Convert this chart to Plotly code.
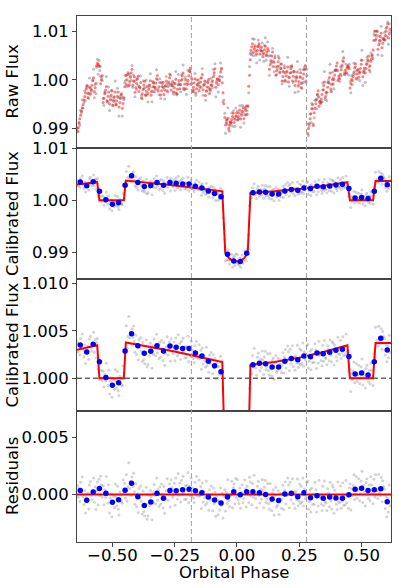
import numpy as np
import plotly.graph_objects as go
from plotly.subplots import make_subplots

# ---------------- data ----------------
bin_phase = [-0.629, -0.603, -0.577, -0.552, -0.526, -0.500, -0.475, -0.449, -0.423, -0.398,
             -0.372, -0.346, -0.321, -0.295, -0.269, -0.244, -0.218, -0.192, -0.167, -0.141,
             -0.115, -0.090, -0.064, -0.038, -0.013, 0.013, 0.039, 0.064, 0.090, 0.115,
             0.141, 0.167, 0.192, 0.218, 0.244, 0.269, 0.295, 0.321, 0.346, 0.372,
             0.397, 0.423, 0.449, 0.474, 0.500, 0.526, 0.551, 0.577, 0.603]

bin_flux = [1.00351, 1.00278, 1.00358, 1.00174, 1.00010, 0.99927, 0.99955, 1.00289, 1.00469, 1.00344,
            1.00264, 1.00285, 1.00344, 1.00289, 1.00341, 1.00327, 1.00313, 1.00313, 1.00268, 1.00236,
            1.00181, 1.00132, 1.00070, 0.98968, 0.98836, 0.98825, 0.98987, 1.00143, 1.00160, 1.00153,
            1.00119, 1.00119, 1.00181, 1.00208, 1.00195, 1.00236, 1.00226, 1.00268, 1.00260, 1.00275,
            1.00295, 1.00306, 1.00229, 1.00045, 1.00056, 1.00035, 1.00174, 1.00421, 1.00299]

bin_resid = [0.00035, -0.00052, 0.00020, 0.00052, 0.00011, -0.00070, -0.00047, 0.00037, 0.00098, -0.00021,
             -0.00099, -0.00067, 0.00011, -0.00035, 0.00035, 0.00031, 0.00040, 0.00046, 0.00031, 0.00014,
             -0.00023, -0.00050, -0.00075, -0.00023, 0.00023, -0.00003, 0.00023, 0.00023, 0.00014, 0.00000,
             -0.00041, -0.00055, 0.00003, 0.00011, -0.00021, 0.00014, -0.00029, -0.00012, -0.00035, -0.00023,
             -0.00032, -0.00035, -0.00003, 0.00046, 0.00055, 0.00035, 0.00040, 0.00049, -0.00064]

model_phase = [-0.642, -0.600, -0.561, -0.552, -0.454, -0.446, -0.350, -0.250, -0.150, -0.059,
               -0.047, -0.032, -0.018, 0.000, 0.016, 0.030, 0.043, 0.054, 0.150, 0.250,
               0.350, 0.443, 0.453, 0.546, 0.556, 0.618]
model_flux = [1.00302, 1.00326, 1.00348, 1.00000, 1.00000, 1.00378, 1.00335, 1.00283, 1.00225, 1.00172,
              0.98990, 0.98895, 0.98840, 0.98830, 0.98840, 0.98895, 0.98990, 1.00142, 1.00172, 1.00218,
              1.00280, 1.00348, 1.00000, 1.00000, 1.00372, 1.00372]

raw_level = [0.9920, 0.9975, 0.9985, 1.0005, 0.9970, 0.9965, 0.9960, 0.9985, 1.0000, 0.9990,
             0.9980, 0.9985, 0.9990, 0.9985, 0.9990, 0.9990, 0.9995, 1.0000, 0.9990, 0.9990,
             0.9985, 1.0000, 1.0005, 0.9910, 0.9922, 0.9928, 0.9936, 1.0063, 1.0062, 1.0058,
             1.0040, 1.0025, 1.0015, 1.0010, 1.0005, 1.0005, 0.9920, 0.9955, 0.9972, 0.9995,
             1.0010, 1.0020, 1.0010, 1.0015, 1.0020, 1.0030, 1.0075, 1.0078, 1.0095]

point_offsets = [-0.0112, -0.0080, -0.0048, -0.0016, 0.0016, 0.0048, 0.0080, 0.0112]

raw_wobble_ppm = [
    [-2500, -1800, -900, 0, 700, 1500, 2200, 2800],
    [-1600, -900, -200, 600, 1300, -1200, -300, 900],
    [-1400, -500, 400, 1300, 1900, -1000, -200, 700],
    [-1100, -200, 800, 1700, 2300, -1300, -500, 400],
    [-1700, -800, 100, 900, 1600, -1300, -400, 500],
    [-1500, -600, 300, 1200, -1800, -900, 0, 1000],
    [-1200, -300, 600, 1500, -1600, -700, 200, 1100],
    [-2000, -1000, 0, 800, 1600, -900, 100, 1200],
    [-1300, -400, 500, 1400, 2200, -1100, -200, 700],
    [-1600, -700, 200, 1100, 1800, -1400, -500, 500],
    [-1800, -900, 0, 900, 1700, -1200, -300, 600],
    [-1400, -500, 400, 1300, -1700, -800, 100, 1000],
    [-1500, -600, 300, 1200, 1900, -1300, -400, 500],
    [-1700, -800, 100, 1000, -1500, -600, 300, 1300],
    [-1300, -400, 500, 1400, 2000, -1100, -200, 700],
    [-1600, -700, 200, 1100, -1800, -900, 0, 900],
    [-1400, -500, 400, 1300, 1900, -1200, -300, 600],
    [-1900, -1000, -100, 800, 1700, 2400, -800, 200],
    [-1500, -600, 300, 1200, -1700, -800, 100, 1000],
    [-1300, -400, 500, 1400, 2100, -1000, -100, 800],
    [-1800, -900, 0, 900, 1600, -1300, -400, 500],
    [-1200, -300, 600, 1500, 2300, -1500, -600, 300],
    [-1600, -700, 200, 1100, 1900, -1100, -200, 700],
    [-1500, -800, -100, 600, 1200, -600, 100, 800],
    [-1200, -500, 200, 900, -1000, -300, 400, 1000],
    [-1000, -300, 400, 1000, -900, -200, 500, 1100],
    [-900, -200, 500, 1100, -800, -100, 600, -500],
    [-900, -200, 500, 1100, -700, 0, 700, -400],
    [-800, -100, 600, 1200, -900, -200, 500, -300],
    [-1000, -300, 400, 1100, -800, -100, 600, 200],
    [-1800, -900, 0, 900, 1700, -1300, -400, 500],
    [-1500, -600, 300, 1200, 2000, -1100, -200, 700],
    [-1700, -800, 100, 1000, -1600, -700, 200, 1100],
    [-1400, -500, 400, 1300, 1900, -1200, -300, 600],
    [-1600, -700, 200, 1100, -1800, -900, 0, 900],
    [-2000, -1100, -200, 700, 1600, 2400, -800, 300],
    [-3000, -2000, -1000, 0, 1000, 2000, 2800, -1500],
    [-2200, -1300, -400, 500, 1400, 2200, -1000, 0],
    [-2000, -1100, -200, 700, 1600, 2300, -900, 100],
    [-2000, -1000, 0, 1000, 1900, -1500, -500, 500],
    [-1800, -900, 0, 900, 1800, 2400, -1200, -300],
    [-1700, -800, 100, 1000, 1900, 2500, -1000, -100],
    [-1600, -700, 200, 1100, 1900, -1300, -400, 500],
    [-1700, -800, 100, 1000, 1800, -1200, -300, 600],
    [-1500, -600, 300, 1200, 2000, -1400, -500, 400],
    [-1600, -700, 200, 1100, 1900, -1000, -100, 800],
    [-1400, -500, 400, 1200, 1900, -1100, -200, 700],
    [-1500, -600, 300, 1100, 1800, -1200, -300, 500],
    [-1300, -400, 500, 1300, 2000, -900, 0, 900],
]

scatter_dev_ppm = [
    [420, -610, 180, -950, 730, -240, 1180, -530],
    [-380, 860, -1120, 270, -50, 640, -770, 1350],
    [910, -320, -680, 150, 1240, -890, 460, -1510],
    [-210, 570, -1430, 820, -640, 1090, 330, -760],
    [650, -1020, 290, -380, 1470, -120, -870, 740],
    [-940, 380, 760, -1280, 90, 540, -470, 1620],
    [230, -560, 1190, -830, -1340, 680, 410, -170],
    [-1150, 920, -260, 610, -720, 1380, -980, 300],
    [1810, -450, 170, -1060, 550, -300, 880, -720],
    [-660, 1140, -890, 240, -1390, 730, -110, 960],
    [380, -730, 1280, -520, -910, 150, 1630, -1210],
    [-1240, 590, -340, 1020, 460, -1570, 820, -100],
    [760, -180, -960, 1330, -620, 290, -1180, 540],
    [-520, 1260, 370, -840, 1050, -1310, -40, 680],
    [1040, -870, -230, 570, -1460, 940, 260, -610],
    [-310, 680, -1270, 1130, -180, -720, 1540, -390],
    [590, -1080, 840, -410, 1190, -230, -850, 370],
    [-860, 320, 1460, -1190, 210, -560, 990, -620],
    [270, -640, -1020, 760, -350, 1280, -150, -470],
    [1120, -290, 560, -1380, 870, -810, 140, -410],
    [-700, 1410, -530, 190, -1160, 650, -260, 970],
    [480, -950, 1060, -330, 720, -1420, 280, -90],
    [-1050, 210, -620, 1310, -240, 870, -1330, 560],
    [640, -1240, 410, -580, 1520, -310, -870, 130],
    [-280, 930, -1410, 360, 690, -1060, 1170, -510],
    [1330, -460, -780, 620, -1190, 240, 880, -700],
    [-620, 1050, 260, -1320, 490, -150, -970, 1290],
    [870, -350, -1150, 740, -480, 1460, -260, -620],
    [-1310, 580, 1020, -240, -890, 330, -560, 1180],
    [350, -1180, 640, 1240, -720, -410, 960, -830],
    [-890, 1370, -220, -1040, 560, 820, -1410, 300],
    [1190, -560, -410, 870, -1230, 190, 650, -680],
    [-450, 790, -1360, 320, 1080, -870, -120, 1410],
    [720, -1290, 950, -600, -170, 1270, -940, 60],
    [-1030, 460, -250, 1560, -790, -380, 1120, -590],
    [580, -820, 1300, -1160, 340, -510, -250, 920],
    [1450, -1020, -340, 690, -1270, 830, -580, 260],
    [-760, 1180, 520, -1440, 90, -910, 1360, -140],
    [310, -490, -1080, 1060, -630, 1540, -290, -420],
    [-1190, 760, 360, -870, 1290, -340, -1060, 1050],
    [940, -1350, 690, 180, -560, -1010, 1430, -330],
    [-420, 1090, -870, -260, 1380, -640, 270, -560],
    [1260, -700, -150, -1190, 620, 970, -1340, 530],
    [-590, 320, 1270, -920, -430, 1110, -780, -90],
    [820, -1110, -480, 640, 1490, -1260, 230, -340],
    [-1370, 690, 1020, -310, -710, 480, -920, 1230],
    [460, -280, -1220, 930, -640, 1340, -470, -110],
    [-830, 1280, -360, -590, 1010, -1150, 720, 200],
    [1090, -610, 450, -1330, 280, -920, 1460, -370],
]

eclipse_marks = [-0.183, 0.279]
phase_range = [-0.642, 0.618]
x_ticks = [-0.5, -0.25, 0.0, 0.25, 0.5]
x_tick_labels = ["\u22120.50", "\u22120.25", "0.00", "0.25", "0.50"]
y_labels = ["Raw Flux", "Calibrated Flux", "Calibrated Flux", "Residuals"]

# ---------------- derived series ----------------
bp = np.array(bin_phase)
px = bp[:, None] + np.array(point_offsets)[None, :]
dev = np.array(scatter_dev_ppm) * 1e-6
wob = np.array(raw_wobble_ppm) * 1e-6


def model_at(x):
    return np.interp(x, model_phase, model_flux)


res_pts = np.array(bin_resid)[:, None] + dev
cal_pts = model_at(px) + res_pts
raw_red = np.array(raw_level)[:, None] + (model_at(px) - model_at(bp)[:, None]) + wob
raw_gray = raw_red + 1.4 * dev

xs = px.ravel()

# ---------------- figure ----------------
FONT = "DejaVu Sans"
FS = 16.5
fig = make_subplots(rows=4, cols=1, shared_xaxes=True, vertical_spacing=0)

gray_mk = dict(size=3, color="rgba(120,120,120,0.33)")
gray_raw_mk = dict(size=3, color="rgba(110,110,110,0.45)")
red_mk = dict(size=3, color="rgba(255,0,0,0.5)")
blue_mk = dict(size=5.5, color="#0000ff")
model_ln = dict(color="#ff0000", width=2)

# panel 1: raw
fig.add_trace(go.Scatter(x=xs, y=raw_gray.ravel(), mode="markers", marker=gray_raw_mk), row=1, col=1)
fig.add_trace(go.Scatter(x=xs, y=raw_red.ravel(), mode="markers", marker=red_mk), row=1, col=1)

# panels 2 and 3: calibrated
for r in (2, 3):
    fig.add_trace(go.Scatter(x=xs, y=cal_pts.ravel(), mode="markers", marker=gray_mk), row=r, col=1)
    if r == 3:
        fig.add_trace(go.Scatter(x=phase_range, y=[1.0, 1.0], mode="lines",
                                 line=dict(color="#666666", width=1.5, dash="5px,3px")), row=r, col=1)
    fig.add_trace(go.Scatter(x=model_phase, y=model_flux, mode="lines", line=model_ln), row=r, col=1)
    fig.add_trace(go.Scatter(x=bin_phase, y=bin_flux, mode="markers", marker=blue_mk), row=r, col=1)

# panel 4: residuals
fig.add_trace(go.Scatter(x=xs, y=res_pts.ravel(), mode="markers", marker=gray_mk), row=4, col=1)
fig.add_trace(go.Scatter(x=phase_range, y=[0.0, 0.0], mode="lines", line=model_ln), row=4, col=1)
fig.add_trace(go.Scatter(x=bin_phase, y=bin_resid, mode="markers", marker=blue_mk), row=4, col=1)

# vertical dashed lines through all panels
for xv in eclipse_marks:
    fig.add_shape(type="line", xref="x4", yref="paper", x0=xv, x1=xv, y0=0, y1=1,
                  line=dict(color="#a0a0a0", width=1, dash="5px,3px"), layer="above")

axis_common = dict(showgrid=False, zeroline=False, showline=True, mirror=True,
                   linecolor="#444444", linewidth=1,
                   tickfont=dict(family=FONT, size=FS, color="black"))

for r in range(1, 5):
    fig.update_xaxes(range=phase_range, tickvals=x_ticks, ticktext=x_tick_labels,
                     ticks="outside" if r == 4 else "", ticklen=4, tickcolor="#444444",
                     showticklabels=(r == 4), row=r, col=1, **axis_common)
fig.update_xaxes(ticklabelstandoff=-6, row=4, col=1)

y_specs = [
    ([0.98606, 1.01313], [0.99, 1.00, 1.01], ".2f"),
    ([0.98491, 1.01013], [0.99, 1.00, 1.01], ".2f"),
    ([0.99662, 1.01045], [1.000, 1.005, 1.010], ".3f"),
    ([-0.0042, 0.0074], [0.000, 0.005], ".3f"),
]
for r, (rng, tv, fmt) in enumerate(y_specs, start=1):
    fig.update_yaxes(range=rng, tickvals=tv, tickformat=fmt, ticks="outside", ticklen=4,
                     tickcolor="#444444", row=r, col=1, **axis_common)

annots = []
for r, lab in enumerate(y_labels, start=1):
    yref = "y domain" if r == 1 else f"y{r} domain"
    annots.append(dict(text=lab, xref="paper", yref=yref, x=-0.2048, y=0.5,
                       xanchor="center", yanchor="middle", textangle=-90, showarrow=False,
                       font=dict(family=FONT, size=FS, color="black")))
annots.append(dict(text="Orbital Phase", xref="paper", yref="paper", x=0.5, y=-0.0585,
                   xanchor="center", yanchor="middle", showarrow=False,
                   font=dict(family=FONT, size=FS, color="black")))

fig.update_layout(width=399, height=588, margin=dict(l=77, r=7, t=7, b=46),
                  paper_bgcolor="white", plot_bgcolor="white", showlegend=False,
                  annotations=annots, font=dict(family=FONT, size=FS, color="black"))

fig.write_html("out.html", config={"displayModeBar": False},
               post_script="document.body.style.margin='0';document.body.style.overflow='hidden';")
